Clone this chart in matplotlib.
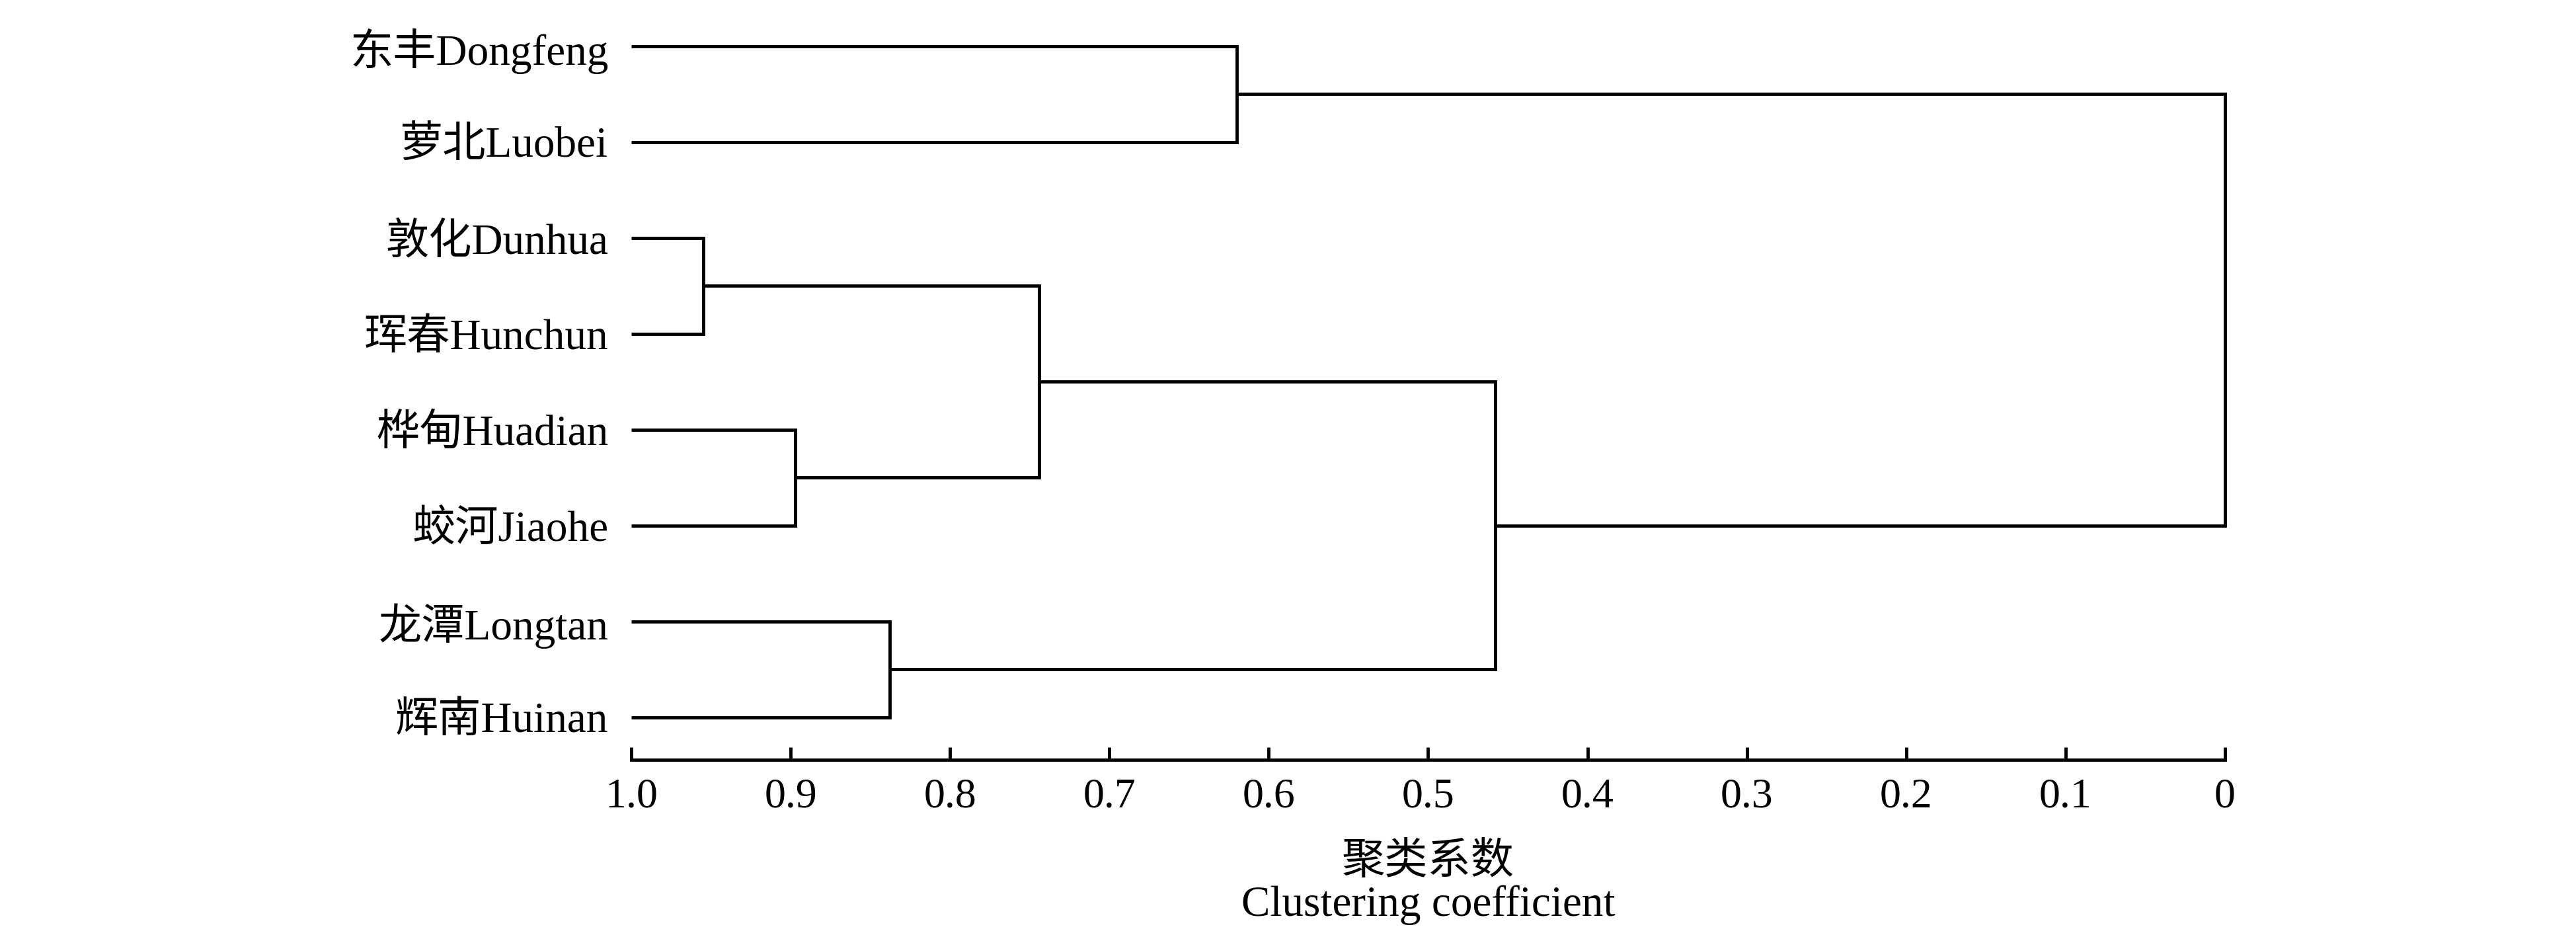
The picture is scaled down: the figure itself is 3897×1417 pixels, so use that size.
"""Dendrogram of clustering coefficients for eight sites."""

import matplotlib
matplotlib.use("Agg")
import matplotlib.pyplot as plt

# leaves, top to bottom
leaves = ["东丰Dongfeng", "萝北Luobei", "敦化Dunhua", "珲春Hunchun",
          "桦甸Huadian", "蛟河Jiaohe", "龙潭Longtan", "辉南Huinan"]

# merges: (child a, child b, clustering coefficient); ids >= 8 are earlier merges
merge_a = [0, 2, 4, 6, 9, 12, 8]
merge_b = [1, 3, 5, 7, 10, 11, 13]
merge_h = [0.620, 0.955, 0.897, 0.838, 0.744, 0.458, 0.0]

tick_vals = [1.0, 0.9, 0.8, 0.7, 0.6, 0.5, 0.4, 0.3, 0.2, 0.1, 0.0]
tick_text = ["1.0", "0.9", "0.8", "0.7", "0.6", "0.5", "0.4", "0.3", "0.2", "0.1", "0"]

FONTS = ["Liberation Serif", "Noto Sans CJK SC", "DejaVu Sans"]
plt.rcParams["font.family"] = FONTS
LW = 3.5

fig = plt.figure(figsize=(38.98, 14.17), dpi=100)
ax = fig.add_axes([0.245, 0.189, 0.6185, 0.8025])

n = len(leaves)
pos_y = {i: float(n - i) for i in range(n)}
pos_x = {i: 1.0 for i in range(n)}

for k, (a, b, h) in enumerate(zip(merge_a, merge_b, merge_h)):
    node = n + k
    ya, yb = pos_y[a], pos_y[b]
    ax.plot([pos_x[a], h, h, pos_x[b]], [ya, ya, yb, yb],
            color="black", lw=LW, solid_joinstyle="miter",
            solid_capstyle="butt", clip_on=False)
    pos_y[node] = (ya + yb) / 2
    pos_x[node] = h

ax.set_xlim(1.0, 0.0)
ax.set_ylim(0.554, 8.4)

ax.set_yticks([pos_y[i] for i in range(n)])
ax.set_yticklabels(leaves, fontsize=47)
ax.tick_params(axis="y", length=0, pad=25)

ax.set_xticks(tick_vals)
ax.set_xticklabels(tick_text, fontsize=46)
ax.tick_params(axis="x", direction="in", length=14, width=LW, pad=20)

for side in ["top", "right", "left"]:
    ax.spines[side].set_visible(False)
ax.spines["bottom"].set_linewidth(LW)

ax.text(0.5, -0.136, "聚类系数", transform=ax.transAxes, ha="center",
        va="center", fontsize=47)
ax.text(0.5, -0.193, "Clustering coefficient", transform=ax.transAxes,
        ha="center", va="center", fontsize=47)

fig.savefig("out.png", dpi=100)
